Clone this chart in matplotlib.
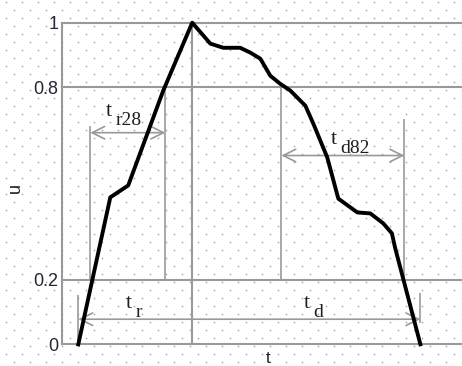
import numpy as np
import matplotlib
matplotlib.use('Agg')
from matplotlib import pyplot as plt

# pulse shape u(t) (t in grid units of 16 px)
t_curve = [1.0, 3.0, 4.12, 6.31, 8.12, 9.25, 10.06, 11.12, 11.75, 12.38, 13.0,
           13.62, 14.25, 15.19, 15.69, 16.56, 17.25, 18.44, 19.25, 20.06,
           20.6, 20.8, 22.38]
u_curve = [0.0, 0.457, 0.494, 0.789, 1.0, 0.935, 0.922, 0.922, 0.907, 0.888,
           0.835, 0.81, 0.789, 0.742, 0.686, 0.581, 0.453, 0.41, 0.407, 0.376,
           0.345, 0.30, 0.0]

# reference levels and tick labels
levels = [0, 0.2, 0.8, 1]
level_labels = ['0', '0.2', '0.8', '1']

# time marks
t_start, t_peak, t_end = 1.0, 8.12, 22.38
t_r28 = (1.75, 6.44)
t_d82 = (13.69, 21.38)

grey = '#999999'
ink = '#1e1e1e'

fig = plt.figure(figsize=(4.62, 3.66), dpi=100)

# dotted paper background
bg = fig.add_axes([0, 0, 1, 1])
bg.set_xlim(0, 462)
bg.set_ylim(366, 0)
bg.axis('off')
for k, y in enumerate(np.arange(1.5, 366, 8)):
    x0 = 22 if k % 2 == 0 else 14
    xs = np.arange(x0 - 16, 470, 16)
    bg.scatter(xs, [y] * len(xs), s=1.5, color='#aaaaaa', linewidths=0)

ax = fig.add_axes([62.3 / 462, 21.7 / 366, 400 / 462, 321.6 / 366])
ax.set_facecolor('none')
ax.set_xlim(0, 25)
ax.set_ylim(0, 1)
for s in ['top', 'right', 'bottom']:
    ax.spines[s].set_visible(False)
ax.spines['left'].set_color(grey)
ax.spines['left'].set_linewidth(1.5)

# horizontal reference lines
for lv in levels:
    ax.axhline(lv, color=grey, lw=1.5, clip_on=False)

# verticals
ax.vlines(t_peak, 0, 1, color=grey, lw=1.5)
ax.vlines(t_r28[0], 0.2, 0.68, color=grey, lw=1.2)
ax.vlines(t_r28[1], 0.2, 0.8, color=grey, lw=1.2)
ax.vlines(t_d82[0], 0.2, 0.8, color=grey, lw=1.2)
ax.vlines(t_d82[1], 0.2, 0.70, color=grey, lw=1.2)
ax.vlines(t_start, 0.0, 0.152, color=grey, lw=1.2)
ax.vlines(t_end, 0.065, 0.158, color=grey, lw=1.2)

# double arrows
arrow = dict(arrowstyle='<->,head_length=0.9,head_width=0.45', color=grey,
             lw=1.2, shrinkA=0, shrinkB=0)
ax.annotate('', xy=(t_r28[0], 0.658), xytext=(t_r28[1], 0.658), arrowprops=arrow)
ax.annotate('', xy=(t_d82[0], 0.587), xytext=(t_d82[1], 0.587), arrowprops=arrow)
ax.annotate('', xy=(t_start, 0.078), xytext=(t_end, 0.078), arrowprops=arrow)

# the pulse
ax.plot(t_curve, u_curve, color='black', lw=2.8, clip_on=False, zorder=5,
        solid_joinstyle='round')


def tlabel(x, y, sub):
    ax.text(x, y, 't', ha='center', va='center', fontsize=16,
            family='Liberation Serif', color=ink)
    ax.annotate(sub, xy=(x, y), xytext=(6, -9), textcoords='offset pixels',
                ha='left', va='center', fontsize=14, family='Liberation Serif',
                color=ink)


tlabel(2.94, 0.724, 'r28')
tlabel(17.0, 0.637, 'd82')
tlabel(4.19, 0.127, 'r')
tlabel(15.31, 0.127, 'd')

ax.set_xticks([])
ax.set_yticks(levels)
ax.set_yticklabels(level_labels, family='Liberation Sans', fontsize=13,
                   color='#262636')
ax.tick_params(axis='y', length=0, pad=3)

fig.text(15 / 462, 1 - 188 / 366, 'u', rotation=90, ha='center', va='center',
         fontsize=13, family='Liberation Sans', color=ink)
fig.text(268 / 462, 1 - 351 / 366, 't', ha='center', va='top',
         fontsize=12, family='Liberation Sans', color=ink)

fig.savefig('out.png', dpi=100)
